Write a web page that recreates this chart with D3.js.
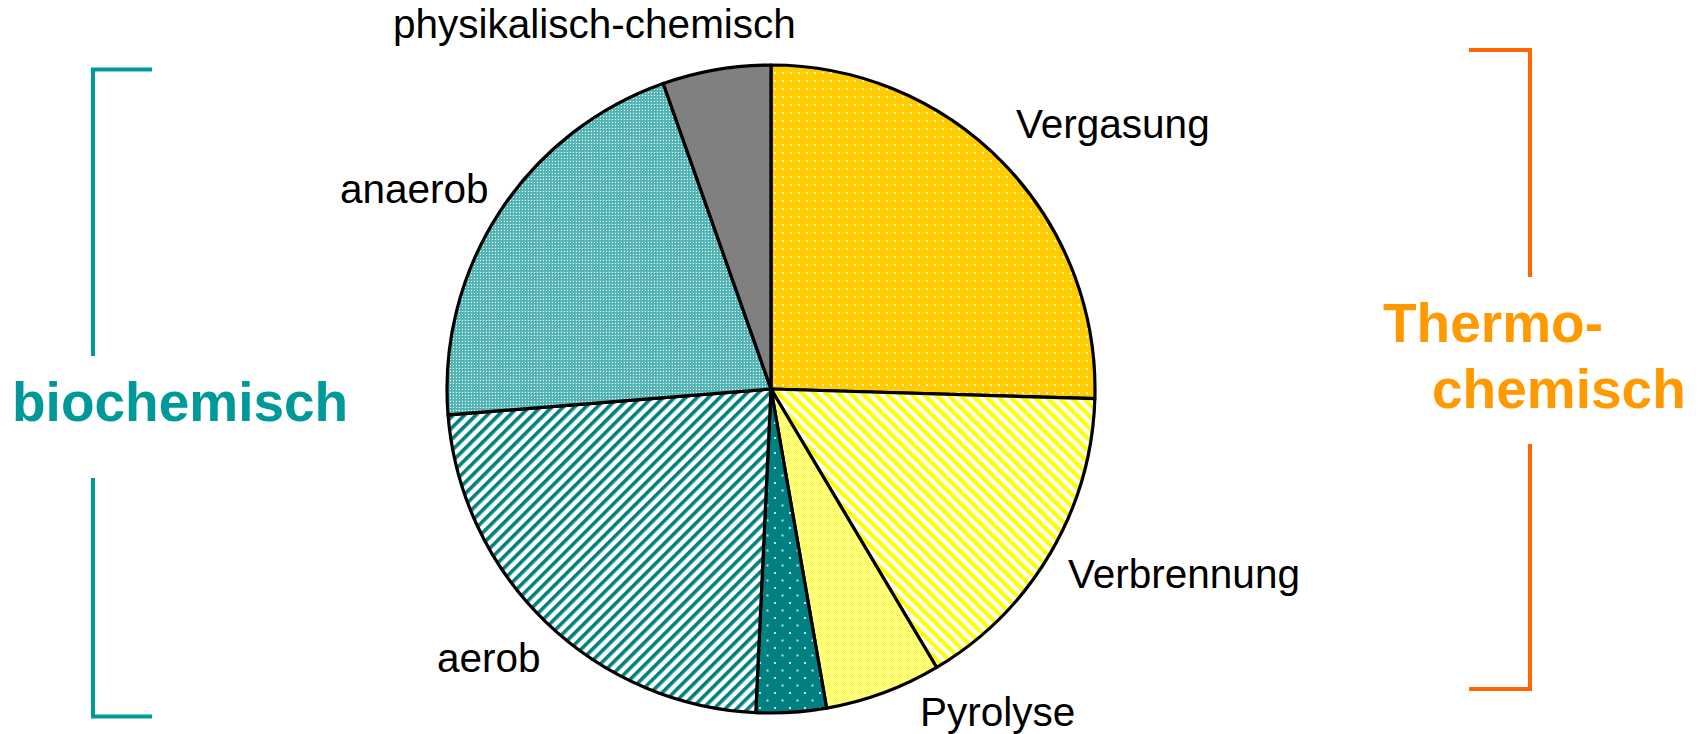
<!DOCTYPE html>
<html>
<head>
<meta charset="utf-8">
<script src="https://cdn.jsdelivr.net/npm/d3@7/dist/d3.min.js"></script>
<style>
  body { margin: 0; background: #fff; }
  svg text { font-family: "Liberation Sans", Arial, Helvetica, sans-serif; }
</style>
</head>
<body>
<div id="my_dataviz"></div>
<script>
// slices, clockwise from 12 o'clock (share in %)
const categories = ["Vergasung", "Verbrennung", "Pyrolyse", "", "aerob", "anaerob", "physikalisch-chemisch"];
const shares     = [25.5, 16.0, 5.8, 3.5, 23.0, 20.9, 5.4];
const groups     = ["thermo", "thermo", "thermo", "bio", "bio", "bio", "bio"];
const groupTitles = { bio: ["biochemisch"], thermo: ["Thermo-", "chemisch"] };

const width = 1701, height = 734;
const cx = 771, cy = 389, radius = 324;

const svg = d3.select("#my_dataviz")
  .append("svg")
  .attr("width", width)
  .attr("height", height);

// fill patterns
const defs = svg.append("defs");

function pattern(id, w, h, transform) {
  const p = defs.append("pattern")
    .attr("id", id)
    .attr("patternUnits", "userSpaceOnUse")
    .attr("width", w)
    .attr("height", h);
  if (transform) p.attr("patternTransform", transform);
  return p;
}

// Vergasung: gold with white dots
let p = pattern("p0", 8, 8);
p.append("rect").attr("width", 8).attr("height", 8).attr("fill", "#ffcc00");
p.append("rect").attr("x", 3).attr("y", 3).attr("width", 2).attr("height", 2).attr("fill", "#fff6d0");

// Verbrennung: yellow/white stripes "\"
p = pattern("p1", 8.5, 8.5, "rotate(-45)");
p.append("rect").attr("width", 8.5).attr("height", 8.5).attr("fill", "#ffffff");
p.append("rect").attr("width", 4.3).attr("height", 8.5).attr("fill", "#ffff00");

// Pyrolyse: fine light yellow checker
p = pattern("p2", 2, 2);
p.append("rect").attr("width", 2).attr("height", 2).attr("fill", "#ffffb8");
p.append("rect").attr("width", 1).attr("height", 1).attr("fill", "#ffff30");
p.append("rect").attr("x", 1).attr("y", 1).attr("width", 1).attr("height", 1).attr("fill", "#ffff30");

// small teal slice: teal with staggered dots
p = pattern("p3", 15, 15);
p.append("rect").attr("width", 15).attr("height", 15).attr("fill", "#008080");
p.append("rect").attr("x", 3).attr("y", 3).attr("width", 2).attr("height", 2).attr("fill", "#c0e4e4");
p.append("rect").attr("x", 10.5).attr("y", 10.5).attr("width", 2).attr("height", 2).attr("fill", "#c0e4e4");

// aerob: teal/white stripes "/"
p = pattern("p4", 8, 8, "rotate(45)");
p.append("rect").attr("width", 8).attr("height", 8).attr("fill", "#ffffff");
p.append("rect").attr("width", 3.6).attr("height", 8).attr("fill", "#008080");

// anaerob: fine light teal grid
p = pattern("p5", 3, 3);
p.append("rect").attr("width", 3).attr("height", 3).attr("fill", "#5ab9b9");
p.append("rect").attr("width", 1).attr("height", 1).attr("fill", "#ffffff");
p.append("rect").attr("x", 1).attr("y", 1).attr("width", 1).attr("height", 1).attr("fill", "#3aa5a5");

const fills = ["url(#p0)", "url(#p1)", "url(#p2)", "url(#p3)", "url(#p4)", "url(#p5)", "#808080"];

const data = categories.map((c, i) => ({ name: c, value: shares[i], group: groups[i], fill: fills[i] }));

const pie = d3.pie().value(d => d.value).sort(null);
const arc = d3.arc().innerRadius(0).outerRadius(radius);

const g = svg.append("g").attr("transform", `translate(${cx},${cy})`);

g.selectAll("path.slice")
  .data(pie(data))
  .join("path")
    .attr("class", "slice")
    .attr("d", arc)
    .attr("fill", d => d.data.fill)
    .attr("stroke", "#000")
    .attr("stroke-width", 3.2)
    .attr("stroke-linejoin", "round");

// slice labels (placed by hand around the pie, like the original)
const labelPos = {
  "Vergasung":             [1016, 138],
  "Verbrennung":           [1068, 588],
  "Pyrolyse":              [920, 726],
  "aerob":                 [437, 672],
  "anaerob":               [340, 203],
  "physikalisch-chemisch": [393, 38]
};

svg.selectAll("text.label")
  .data(data.filter(d => d.name))
  .join("text")
    .attr("class", "label")
    .attr("x", d => labelPos[d.name][0])
    .attr("y", d => labelPos[d.name][1])
    .style("font-size", "40.5px")
    .style("fill", "#000")
    .text(d => d.name);

// group brackets
svg.append("path")
  .attr("d", "M152,69.5 H93 V356 M93,478 V716.5 H152")
  .attr("fill", "none")
  .attr("stroke", "#009999")
  .attr("stroke-width", 4);

svg.append("path")
  .attr("d", "M1469,50 H1530 V277 M1530,444 V689 H1469")
  .attr("fill", "none")
  .attr("stroke", "#ff6600")
  .attr("stroke-width", 4);

svg.append("text")
  .attr("x", 12).attr("y", 421)
  .style("font-size", "55px").style("font-weight", "bold")
  .style("fill", "#009999")
  .text(groupTitles.bio[0]);

svg.append("text")
  .attr("x", 1383).attr("y", 342)
  .style("font-size", "55px").style("font-weight", "bold")
  .style("fill", "#ff9900")
  .text(groupTitles.thermo[0]);

svg.append("text")
  .attr("x", 1432).attr("y", 408)
  .style("font-size", "55px").style("font-weight", "bold")
  .style("fill", "#ff9900")
  .text(groupTitles.thermo[1]);
</script>
</body>
</html>
